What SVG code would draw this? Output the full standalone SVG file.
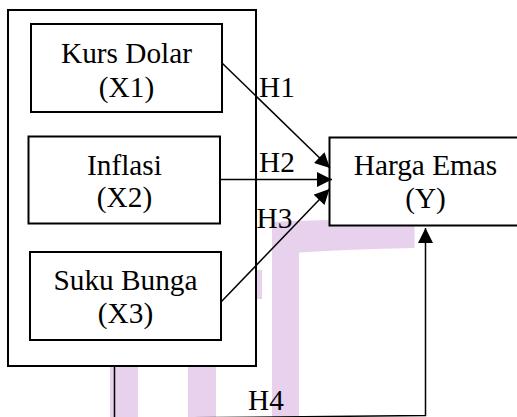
<svg xmlns="http://www.w3.org/2000/svg" width="517" height="417" viewBox="0 0 517 417">
  <style>
    .box { fill: #ffffff; stroke: #000000; stroke-width: 2; }
    .wm { fill: #e8d1ec; stroke: none; }
    .edge { fill: none; stroke: #000000; stroke-width: 1.5; }
    text { font-family: "Liberation Serif", "Times New Roman", serif; font-size: 29.3px; fill: #000000; }
    .c { text-anchor: middle; }
  </style>
  <defs>
    <marker id="arrow" viewBox="0 0 16 16" refX="16" refY="8" markerWidth="16" markerHeight="15" markerUnits="userSpaceOnUse" orient="auto">
      <path d="M0,0 L16,8 L0,16 Z" fill="#000000"/>
    </marker>
  </defs>

  <!-- background logo strokes -->
  <g id="watermark">
    <rect class="wm" x="110" y="300" width="28" height="117"/>
    <rect class="wm" x="188" y="300" width="28" height="117"/>
    <path class="wm" d="M272,222 Q330,219 414.5,219 L414.5,248 Q350,249 299,252.5 L299,417 L272,417 Z"/>
    <rect class="wm" x="245" y="270" width="17" height="29"/>
  </g>

  <!-- grouping frame for the independent variables -->
  <g id="frame">
    <rect class="box" x="8" y="10" width="248" height="356"/>
  </g>

  <g id="x1">
    <rect class="box" x="31" y="24" width="191" height="88"/>
    <text class="c" x="126.5" y="62.5">Kurs Dolar</text>
    <text class="c" x="126.5" y="96.5">(X1)</text>
  </g>

  <g id="x2">
    <rect class="box" x="28.5" y="136.5" width="191.5" height="87"/>
    <text class="c" x="124.5" y="175">Inflasi</text>
    <text class="c" x="124.5" y="207">(X2)</text>
  </g>

  <g id="x3">
    <rect class="box" x="30" y="252" width="191" height="88"/>
    <text class="c" x="125.5" y="290">Suku Bunga</text>
    <text class="c" x="125.5" y="323">(X3)</text>
  </g>

  <g id="y">
    <rect class="box" x="329.5" y="137.5" width="200" height="88"/>
    <text class="c" x="425.5" y="175">Harga Emas</text>
    <text class="c" x="425.5" y="208">(Y)</text>
  </g>

  <g id="connectors">
    <line class="edge" x1="222" y1="63" x2="330" y2="168" marker-end="url(#arrow)"/>
    <line class="edge" x1="220" y1="179.5" x2="332" y2="179.5" marker-end="url(#arrow)"/>
    <line class="edge" x1="221" y1="302" x2="329.5" y2="189" marker-end="url(#arrow)"/>
    <polyline class="edge" points="114.5,366 114.5,418.5 425.5,415.5 425.5,228" marker-end="url(#arrow)"/>
  </g>

  <g id="labels">
    <text x="259" y="96.5">H1</text>
    <text x="259" y="171.5">H2</text>
    <text x="256.5" y="228">H3</text>
    <text x="248" y="410">H4</text>
  </g>
</svg>
